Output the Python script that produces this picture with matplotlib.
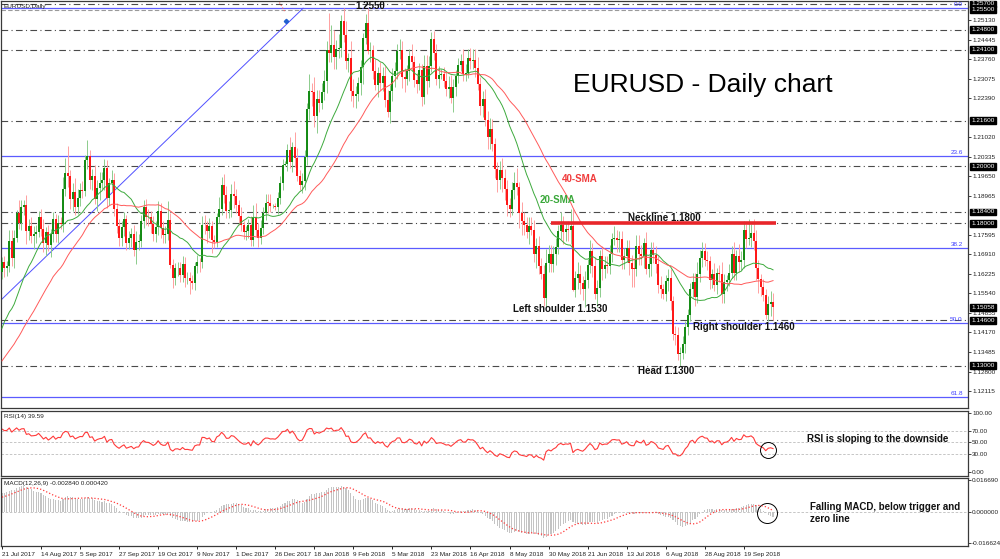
import numpy as np
import pandas as pd
import matplotlib
matplotlib.use("Agg")
import matplotlib.pyplot as plt
from matplotlib.transforms import blended_transform_factory

plt.rcParams['font.family'] = ['Liberation Sans', 'DejaVu Sans']

# daily closes before the first visible bar (May - 20 Jul 2017), only to warm up SMA / RSI / MACD
pre_closes = [1.0905, 1.0928, 1.0886, 1.0984, 1.0998, 1.0925, 1.0874, 1.0873, 1.0866, 1.0933,
              1.0980, 1.1073, 1.1159, 1.1101, 1.1206, 1.1243, 1.1180, 1.1183, 1.1212, 1.1181,
              1.1164, 1.1180, 1.1243,
              1.1214, 1.1281, 1.1250, 1.1278, 1.1260, 1.1213, 1.1196, 1.1209, 1.1213, 1.1215,
              1.1150, 1.1198, 1.1148, 1.1130, 1.1166, 1.1151, 1.1195, 1.1182, 1.1337, 1.1375,
              1.1442, 1.1426,
              1.1362, 1.1346, 1.1350, 1.1423, 1.1400, 1.1400, 1.1468, 1.1413, 1.1400, 1.1470,
              1.1476, 1.1557, 1.1515, 1.1631]

# visible daily closes, 21 Jul 2017 -> 8 Oct 2018
closes_2017 = [1.1665, 1.1642, 1.1649, 1.1737, 1.1677, 1.1750, 1.1838,
               1.1801, 1.1858, 1.1866, 1.1773, 1.1792, 1.1755, 1.1761, 1.1771, 1.1822, 1.1780,
               1.1731, 1.1771, 1.1723, 1.1761, 1.1814, 1.1761, 1.1803, 1.1799, 1.1922, 1.1978,
               1.1968, 1.1887, 1.1911,
               1.1859, 1.1890, 1.1917, 1.1915, 1.2021, 1.2036, 1.1952, 1.1966, 1.1887, 1.1923,
               1.1942, 1.1951, 1.1996, 1.1890, 1.1941, 1.1951, 1.1850, 1.1792, 1.1749, 1.1787,
               1.1815,
               1.1730, 1.1748, 1.1764, 1.1706, 1.1733, 1.1737, 1.1809, 1.1856, 1.1824, 1.1822,
               1.1797, 1.1764, 1.1788, 1.1845, 1.1785, 1.1760, 1.1762, 1.1813, 1.1654, 1.1607,
               1.1642, 1.1645,
               1.1620, 1.1656, 1.1608, 1.1610, 1.1598, 1.1590, 1.1650, 1.1664, 1.1663, 1.1795,
               1.1793, 1.1772, 1.1790, 1.1740, 1.1733, 1.1822, 1.1851, 1.1933, 1.1900, 1.1844,
               1.1847, 1.1904,
               1.1895, 1.1863, 1.1826, 1.1794, 1.1771, 1.1772, 1.1796, 1.1741, 1.1823, 1.1777,
               1.1748, 1.1783, 1.1838, 1.1873, 1.1872, 1.1860, 1.1862, 1.1858, 1.1889, 1.1943,
               1.2005]
closes_2018 = [1.2008, 1.2059, 1.2016, 1.2067, 1.2029, 1.1968, 1.1936, 1.1947, 1.2034, 1.2202,
               1.2264, 1.2262, 1.2178, 1.2238, 1.2222, 1.2262, 1.2298, 1.2409, 1.2397, 1.2427,
               1.2383, 1.2412, 1.2415,
               1.2510, 1.2460, 1.2371, 1.2379, 1.2265, 1.2247, 1.2253, 1.2292, 1.2350, 1.2449,
               1.2505, 1.2405, 1.2407, 1.2336, 1.2284, 1.2328, 1.2294, 1.2318, 1.2233, 1.2192,
               1.2265, 1.2317, 1.2336, 1.2406, 1.2409, 1.2314, 1.2307, 1.2336, 1.2388, 1.2368,
               1.2304, 1.2289, 1.2338, 1.2243, 1.2351, 1.2300, 1.2353, 1.2447, 1.2398, 1.2306,
               1.2322, 1.2323,
               1.2300, 1.2271, 1.2277, 1.2241, 1.2277, 1.2318, 1.2356, 1.2371, 1.2326, 1.2329,
               1.2382, 1.2371, 1.2372, 1.2344, 1.2288, 1.2212, 1.2235, 1.2163, 1.2102, 1.2131,
               1.2078,
               1.1991, 1.1951, 1.1989, 1.1960, 1.1921, 1.1865, 1.1849, 1.1916, 1.1942, 1.1926,
               1.1835, 1.1809, 1.1794, 1.1768, 1.1792, 1.1778, 1.1694, 1.1720, 1.1652, 1.1624,
               1.1537, 1.1661, 1.1693,
               1.1659, 1.1694, 1.1717, 1.1774, 1.1795, 1.1768, 1.1782, 1.1777, 1.1791, 1.1567,
               1.1608, 1.1624, 1.1591, 1.1570, 1.1603, 1.1655, 1.1702, 1.1652, 1.1553, 1.1572,
               1.1685,
               1.1640, 1.1655, 1.1652, 1.1694, 1.1745, 1.1750, 1.1741, 1.1744, 1.1670, 1.1684,
               1.1712, 1.1660, 1.1641, 1.1640, 1.1720, 1.1693, 1.1684, 1.1730, 1.1641, 1.1657,
               1.1705, 1.1690,
               1.1656, 1.1584, 1.1568, 1.1553, 1.1599, 1.1610, 1.1526, 1.1411, 1.1407, 1.1342,
               1.1345, 1.1376, 1.1438, 1.1478, 1.1570, 1.1595, 1.1540, 1.1624, 1.1677, 1.1702,
               1.1672, 1.1667, 1.1603,
               1.1621, 1.1582, 1.1625, 1.1623, 1.1551, 1.1594, 1.1600, 1.1627, 1.1691, 1.1625,
               1.1686, 1.1665, 1.1672, 1.1778, 1.1745, 1.1748, 1.1767, 1.1738, 1.1643, 1.1604,
               1.1576, 1.1548, 1.1479, 1.1516, 1.1524, 1.1506]

# wick lengths in pips above / below the candle body
wick_up = [18, 22, 20, 40, 40, 25, 10,
           45, 25, 15, 35, 25, 30, 30, 25, 20, 30, 35, 15, 25, 20, 25, 20, 25, 20, 40, 50, 92, 20, 30,
           50, 30, 25, 30, 20, 56, 20, 25, 40, 30, 40, 30, 30, 25, 20, 35, 25, 20, 25, 20, 25,
           15, 25, 20, 30, 40, 25, 20, 25, 30, 25, 20, 30, 20, 35, 25, 25, 30, 65, 25, 20, 20, 20,
           20, 30, 25, 20, 20, 20, 15, 25, 15, 30, 35, 15, 30, 20, 20, 15, 40, 30, 40, 30, 30, 35,
           45, 25, 20, 30, 15, 20, 20, 30, 40, 50, 25, 30, 20, 30, 30, 30, 5, 10, 20, 25, 20,
           10, 20, 45, 20, 55, 35, 20, 30, 25, 20, 60, 30, 50, 30, 30, 30, 40, 30, 128, 70, 50, 30, 50,
           20, 45, 50, 20, 60, 40, 30, 20, 25, 20, 30, 50, 30, 20, 40, 20, 40, 30, 35, 35,
           20, 30, 30, 25, 38, 30, 30, 20, 25, 40, 20, 25, 25, 20, 40, 40, 35, 25, 29, 30, 30, 20,
           25, 30, 40, 45, 30, 20, 25, 25, 40, 30, 30, 32, 40, 40, 40, 25, 30, 35, 30, 40, 35,
           20, 25, 30, 40, 30, 30, 25, 30, 40, 54, 20, 40, 30, 30, 30, 30, 35, 30, 35, 25, 30, 50, 30,
           30, 25, 30, 20, 45, 30, 20, 25, 60, 61, 25, 40, 30, 25, 30, 20, 40, 30, 30, 30, 20,
           35, 30, 30, 30, 20, 41, 25, 30, 30, 30, 30, 30, 30, 35, 40, 40, 30, 20, 40, 30, 30, 30,
           30, 30, 30, 20, 20, 30, 30, 20, 30, 30, 20, 30, 20, 20, 20, 30, 30, 40, 30, 31, 30, 30, 20,
           20, 40, 20, 30, 40, 30, 20, 30, 30, 45, 20, 40, 30, 30, 20, 67, 30, 50, 40, 30,
           20, 30, 20, 30, 40, 30]
wick_dn = [25, 30, 28, 20, 25, 35, 15,
           20, 25, 30, 45, 30, 25, 45, 30, 20, 25, 30, 45, 20, 40, 25, 25, 30, 20, 30, 25, 40, 35, 45,
           30, 25, 30, 25, 20, 30, 30, 35, 20, 45, 40, 20, 35, 35, 25, 30, 25, 25, 30, 30, 30,
           25, 20, 30, 20, 50, 25, 20, 25, 30, 30, 30, 25, 30, 30, 35, 30, 30, 20, 10, 35, 25, 25,
           25, 25, 30, 20, 45, 20, 25, 25, 35, 20, 30, 40, 25, 45, 20, 15, 20, 20, 30, 25, 25, 25,
           40, 25, 30, 20, 25, 30, 25, 20, 20, 20, 30, 20, 20, 25, 35, 20, 5, 10, 25, 20, 25,
           5, 25, 20, 35, 30, 20, 20, 30, 30, 30, 40, 50, 40, 60, 30, 20, 30, 40, 31, 30, 40, 40, 30,
           30, 25, 30, 40, 35, 40, 41, 25, 40, 60, 20, 10, 40, 30, 15, 40, 25, 30, 25, 20,
           38, 35, 40, 30, 30, 40, 45, 20, 35, 30, 25, 30, 20, 30, 25, 45, 20, 20, 25, 20, 30, 15,
           20, 25, 30, 20, 50, 30, 25, 20, 25, 25, 20, 30, 30, 30, 20, 30, 40, 20, 40, 40, 25,
           30, 40, 30, 50, 40, 40, 25, 20, 30, 25, 50, 50, 35, 20, 40, 20, 30, 50, 30, 20, 27, 30, 30,
           30, 30, 40, 25, 30, 40, 30, 40, 50, 5, 26, 40, 40, 40, 62, 30, 30, 40, 20, 45, 30,
           40, 30, 25, 30, 30, 20, 40, 40, 30, 30, 20, 40, 65, 65, 25, 40, 30, 40, 20, 30, 40, 30,
           30, 30, 30, 20, 25, 35, 30, 20, 35, 20, 41, 20, 30, 30, 20, 30, 30, 20, 30, 30, 20, 30, 35,
           30, 20, 30, 30, 30, 30, 30, 20, 20, 25, 25, 35, 30, 30, 30, 20, 30, 30, 40, 50,
           30, 20, 16, 20, 40, 45]

date_labels = ['21 Jul 2017', '14 Aug 2017', '5 Sep 2017', '27 Sep 2017', '19 Oct 2017',
               '9 Nov 2017', '1 Dec 2017', '26 Dec 2017', '18 Jan 2018', '9 Feb 2018',
               '5 Mar 2018', '23 Mar 2018', '16 Apr 2018', '8 May 2018', '30 May 2018',
               '21 Jun 2018', '13 Jul 2018', '6 Aug 2018', '28 Aug 2018', '19 Sep 2018']
price_ticks = [1.25130, 1.24445, 1.23760, 1.23075, 1.22390, 1.21020, 1.20335, 1.19650,
               1.18965, 1.17595, 1.16910, 1.16225, 1.15540, 1.14855, 1.14170, 1.13485,
               1.12800, 1.12115]
level_lines = [1.2570, 1.2480, 1.2410, 1.2160, 1.2000, 1.1840, 1.1800, 1.1460, 1.1300]
box_labels = [1.25700, 1.25500, 1.24800, 1.24100, 1.21600, 1.20000, 1.18400, 1.18000,
              1.15058, 1.14600, 1.13000]
fib_levels = [1.2555, 1.2035, 1.1712, 1.1450, 1.1190]
fib_names = ['0.0', '23.6', '38.2', '50.0', '61.8']
rsi_ticks = [100, 70, 50, 30, 0]
macd_ticks = [0.016690, 0.0, -0.016624]
macd_tick_labels = ['0.016690', '0.000000', '-0.016624']

# ---- indicators ----
s = pd.Series(pre_closes + closes_2017 + closes_2018)
n0 = len(pre_closes)
sma20 = s.rolling(20).mean().values[n0:]
sma40 = s.rolling(40).mean().values[n0:]
d = s.diff()
gain = d.clip(lower=0).ewm(alpha=1 / 14, adjust=False).mean()
loss = (-d.clip(upper=0)).ewm(alpha=1 / 14, adjust=False).mean()
rsi = (100 - 100 / (1 + gain / loss)).values[n0:]
macd = s.ewm(span=12, adjust=False).mean() - s.ewm(span=26, adjust=False).mean()
signal = macd.rolling(9).mean().values[n0:]
macd = macd.values[n0:]

c = s.values[n0:]
o = s.values[n0 - 1:-1]
hi = np.maximum(o, c) + np.array(wick_up) / 1e4
lo = np.minimum(o, c) - np.array(wick_dn) / 1e4
x = np.arange(len(c))


def rect(x0, y0, x1, y1):
    return [x0 / 1000, 1 - y1 / 559, (x1 - x0) / 1000, (y1 - y0) / 559]


fig = plt.figure(figsize=(10, 5.59), dpi=100)
ax = fig.add_axes(rect(1, 1, 968, 408))
ax2 = fig.add_axes(rect(1, 411, 968, 476), sharex=ax)
ax3 = fig.add_axes(rect(1, 478, 968, 546), sharex=ax)

xmin, xmax = -0.4, 395.9
ax.set_xlim(xmin, xmax)
ax.set_ylim(1.11520, 1.25805)
ax2.set_ylim(-6.8, 103.4)
ax3.set_ylim(-0.01823, 0.01773)

tsmall = 4.6
for a in (ax, ax2, ax3):
    for sp in a.spines.values():
        sp.set_color('#3a3a3a')
        sp.set_linewidth(0.9)
    a.yaxis.tick_right()
    a.tick_params(axis='y', length=2, width=0.6, pad=1, labelsize=tsmall, colors='#222222')
    a.tick_params(axis='x', length=0, labelbottom=False)

# ---- price panel ----
for lv in level_lines:
    ax.axhline(lv, color='#4a4a4a', lw=0.8, ls=(0, (6, 3, 1, 3)), zorder=1)
ax.axhline(1.2550, color='#9a9a9a', lw=0.8, ls=(0, (4, 2)), zorder=1)
for lv, nm in zip(fib_levels, fib_names):
    ax.axhline(lv, color='#5b5bff', lw=0.9, zorder=1)
    ax.text(xmax - 2.2, lv + 0.0004, nm, color='#4040ff', fontsize=4.6, ha='right', va='bottom')

# trend line and fibo anchor
ax.plot([-0.4, 123.4], [1.1531, 1.2555], color='#5050ff', lw=0.7, zorder=2)
ax.plot([113.1, 116.0], [1.2584, 1.2542], color='#ff6060', lw=0.8, ls=':', zorder=2)
ax.plot([116.4], [1.2510], marker='D', ms=2.2, color='#2060d0', zorder=3)

bull = c >= o
top = np.maximum(np.maximum(o, c), np.minimum(o, c) + 0.00018)
bot = np.minimum(o, c)
ax.vlines(x[bull], lo[bull], hi[bull], color='#8ccc8c', lw=0.7, zorder=3)
ax.vlines(x[~bull], lo[~bull], hi[~bull], color='#ffa0a0', lw=0.7, zorder=3)
ax.vlines(x[bull], bot[bull], top[bull], color='#118a11', lw=1.4, zorder=4)
ax.vlines(x[~bull], bot[~bull], top[~bull], color='#ff1414', lw=1.4, zorder=4)

ax.plot(x, sma20, color='#3daa3d', lw=0.7, zorder=5)
ax.plot(x, sma40, color='#ff5a5a', lw=0.7, zorder=5)

ax.plot([225, 317.2], [1.1800, 1.1800], color='#e8262a', lw=2.6, zorder=6, solid_capstyle='butt')

ax.set_yticks(price_ticks)
ax.set_yticklabels(['%.5f' % v for v in price_ticks])
bt = blended_transform_factory(ax.transAxes, ax.transData)
for v in box_labels:
    ax.text(1.0035, v, '%.5f' % v, transform=bt, fontsize=tsmall, color='white', va='center',
            ha='left', bbox=dict(boxstyle='square,pad=0.15', fc='black', ec='black'), zorder=10,
            clip_on=False)

bold = dict(fontsize=7, fontweight='bold', zorder=8)
ax.text(150.8, 1.2563, '1.2550', ha='center', va='center', color='#111111', **bold)
ax.text(229.5, 1.1956, '40-SMA', ha='left', va='center', color='#f03c3c', **bold)
ax.text(220.5, 1.1882, '20-SMA', ha='left', va='center', color='#3aa83a', **bold)
ax.text(256.6, 1.1819, 'Neckline 1.1800', ha='left', va='center', color='#111111', **bold)
ax.text(209.4, 1.1499, 'Left shoulder 1.1530', ha='left', va='center', color='#111111', **bold)
ax.text(283.2, 1.1436, 'Right shoulder 1.1460', ha='left', va='center', color='#111111', **bold)
ax.text(260.7, 1.1282, 'Head 1.1300', ha='left', va='center', color='#111111', **bold)
ax.text(234.0, 1.2286, 'EURUSD - Daily chart', ha='left', va='center', fontsize=19, color='black')
ax.text(0.003, 0.993, 'EURUSD,Daily', transform=ax.transAxes, fontsize=tsmall, va='top', color='#222222')

# ---- RSI panel ----
for lv in (70, 50, 30):
    ax2.axhline(lv, color='#bdbdbd', lw=0.6, ls=(0, (3, 2)))
ax2.plot(x, rsi, color='#ff3a3a', lw=0.8)
ax2.set_yticks(rsi_ticks)
ax2.set_yticklabels(['%.2f' % v for v in rsi_ticks])
ax2.text(0.003, 0.96, 'RSI(14) 39.59', transform=ax2.transAxes, fontsize=tsmall, va='top', color='#222222')
ax2.text(329.9, 55.9, 'RSI is sloping to the downside', ha='left', va='center', color='#111111', **bold)
ax2.plot([313.9], [37.3], marker='o', ms=11.5, mfc='none', mec='black', mew=0.7)

# ---- MACD panel ----
ax3.axhline(0, color='#bdbdbd', lw=0.6, ls=(0, (3, 2)))
ax3.bar(x, macd, width=0.45, color='#c4c4c4', zorder=2)
ax3.plot(x, signal, color='#ff3a3a', lw=0.9, ls=':', zorder=3)
ax3.set_yticks(macd_ticks)
ax3.set_yticklabels(macd_tick_labels)
ax3.text(0.003, 0.96, 'MACD(12,26,9) -0.002840 0.000420', transform=ax3.transAxes, fontsize=tsmall,
         va='top', color='#222222')
ax3.text(331.1, 0.00265, 'Falling MACD, below trigger and', ha='left', va='center', color='#111111', **bold)
ax3.text(331.1, -0.0037, 'zero line', ha='left', va='center', color='#111111', **bold)
ax3.plot([313.5], [-0.00053], marker='o', ms=14.4, mfc='none', mec='black', mew=0.7)

ax3.set_xticks(np.arange(len(date_labels)) * 16)
ax3.set_xticklabels(date_labels, fontsize=tsmall, ha='left', color='#222222')
ax3.tick_params(axis='x', length=2, width=0.6, pad=2, labelbottom=True)
ax.tick_params(axis='x', labelbottom=False)
ax2.tick_params(axis='x', labelbottom=False)

fig.savefig('out.png', dpi=100)
